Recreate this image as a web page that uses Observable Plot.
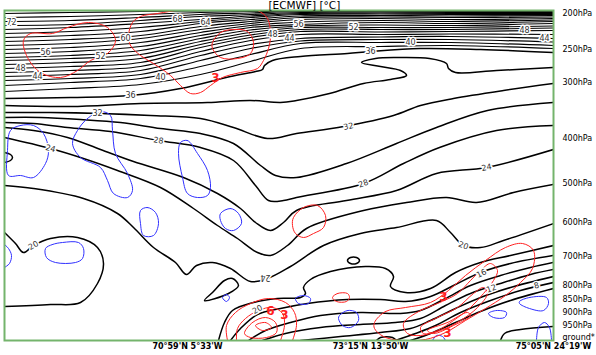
<!DOCTYPE html>
<html><head><meta charset="utf-8">
<script src="https://cdn.jsdelivr.net/npm/d3@7"></script>
<script src="https://cdn.jsdelivr.net/npm/@observablehq/plot@0.6"></script>
<style>body{margin:0;background:#fff} svg{display:block}</style>
</head><body><div id="chart"></div>
<script>
// x = distance along the section (km), y = height (m, standard atmosphere)
const title = "[ECMWF] [°C]";
const sectionTicks = [366, 732, 1098];
const sectionLabels = ["70°59'N 5°33'W", "73°15'N 13°50'W", "75°05'N 24°19'W"];
const pressureHeights = [11800,10504,9316,7300,5680,4276,3052,2008,1504,1036,568,136];
const pressureLabels = ["200hPa","250hPa","300hPa","400hPa","500hPa","600hPa","700hPa","800hPa","850hPa","900hPa","950hPa","ground*"];

// upper dense isotherms: height of each level at these section stations
const bandKm = [0,132,272,392,492,592,752,892,1098];
const bandLevels = [76,74,72,70,68,66,64,62,60,58,56,54,52,50,48,46,44,42,40,38];
const bandHeights = [
 [11800,11836,11872,11890,11908,11908,11908,11908,11908],
 [11656,11692,11764,11836,11872,11890,11890,11890,11890],
 [11512,11548,11656,11764,11818,11872,11872,11872,11872],
 [11368,11404,11548,11692,11764,11836,11854,11836,11836],
 [11224,11296,11440,11584,11710,11800,11818,11800,11800],
 [11080,11152,11296,11512,11656,11764,11782,11764,11764],
 [10936,11008,11152,11440,11584,11710,11728,11710,11728],
 [10792,10864,11008,11332,11512,11656,11674,11656,11674],
 [10648,10720,10900,11224,11440,11584,11620,11584,11620],
 [10504,10576,10756,11116,11368,11494,11548,11512,11566],
 [10360,10432,10612,11008,11296,11404,11476,11440,11512],
 [10216,10288,10468,10900,11206,11350,11386,11368,11440],
 [10108,10180,10324,10792,11116,11296,11296,11296,11350],
 [9964,10036,10180,10684,11026,11224,11224,11224,11278],
 [9820,9892,10036,10576,10936,11152,11134,11152,11188],
 [9676,9748,9892,10432,10828,11044,11044,11062,11044],
 [9532,9604,9748,10288,10684,10900,10954,10972,10900],
 [9388,9460,9604,10108,10540,10810,10864,10864,10774],
 [9208,9316,9460,9892,10324,10720,10756,10756,10648],
 [8992,9100,9244,9604,10072,10540,10612,10648,10540]
];

// other isotherms (open lines)
const isothermLines = [
 [[0,8740],[132,8776],[252,8848],[352,9100],[452,9532],[502,9712],[516,9784],[520,9928],[536,10108],[592,10252],[686,10360],[732,10432],[832,10540],[952,10504],[1098,10396]],
 [[0,8488],[132,8452],[272,8560],[406,8596],[492,8668],[552,8596],[584,8668],[650,8920],[718,9280],[772,9424],[804,9568],[792,9748],[752,9892],[714,10036],[742,10180],[784,10216],[850,10180],[884,10000],[888,9820],[902,9676],[984,9748],[1098,9856]],
 [[0,8236],[92,8236],[192,8200],[292,8128],[392,8020],[458,7696],[526,7300],[584,7480],[678,7732],[778,8128],[832,8488],[898,8740],[998,9028],[1098,9280]],
 [[0,8056],[72,8056],[152,7984],[232,7876],[312,7660],[392,7480],[458,7120],[512,6328],[542,5968],[584,5896],[684,6400],[784,7120],[864,7696],[966,8308],[1098,8596]],
 [[0,7876],[58,7840],[126,7696],[212,7552],[308,7228],[392,6976],[458,6508],[502,5608],[528,5068],[558,5068],[584,5176],[718,5680],[798,6400],[870,6976],[984,7588],[1098,7768]],
 [[0,7696],[58,7588],[126,7336],[192,6904],[258,6472],[358,5896],[426,5320],[472,4780],[502,4276],[532,3988],[558,4276],[584,4708],[684,5068],[784,5428],[864,6040],[964,6256],[1098,6904]],
 [[0,7336],[92,6940],[158,6580],[226,6148],[312,5536],[378,4780],[426,4168],[466,3700],[506,3196],[532,3088],[566,3448],[604,4060],[718,4708],[804,4996],[884,5176],[944,4996],[1018,5356],[1098,5644]],
 [[0,5608],[58,5500],[158,5140],[226,4600],[258,4096],[298,3376],[342,2836],[364,2404],[384,2728],[416,2836],[452,2620],[492,2152],[526,2260],[572,2692],[638,3448],[712,3880],[784,4096],[864,4348],[892,3916],[918,3448],[952,3376],[998,3628],[1098,4240]],
 [[0,3916],[22,3520],[38,3196],[58,3448],[92,3700],[146,3736],[186,3376],[198,2800],[186,2080],[152,1396],[92,1324],[0,1252]],
 [[0,6796],[12,6724],[16,6616],[12,6508],[0,6436]],
 [[428,28],[440,676],[456,1108],[498,1396],[546,1540],[592,1576],[602,1720],[598,1936],[612,2224],[652,2512],[722,2692],[762,2620],[778,2332],[772,1972],[802,1756],[852,1900],[902,2476],[952,2836],[1012,3088],[1098,3448]],
 [[452,28],[472,460],[506,964],[552,1180],[606,1360],[686,1504],[752,1504],[802,1432],[852,1612],[902,2044],[952,2476],[1012,2800],[1098,3088]],
 [[488,28],[522,388],[572,676],[632,928],[712,1036],[792,1000],[832,1108],[882,1540],[932,2008],[992,2368],[1052,2656],[1098,2836]],
 [[516,28],[562,280],[632,496],[712,604],[782,676],[832,820],[882,1288],[932,1720],[992,2080],[1052,2404],[1098,2584]],
 [[592,28],[672,172],[752,316],[812,460],[852,748],[902,1180],[952,1576],[1012,1936],[1098,2332]],
 [[782,28],[822,280],[862,568],[912,1036],[972,1468],[1032,1828],[1098,2116]],
 [[812,28],[852,280],[902,676],[952,1072],[1012,1468],[1098,1900]],
 [[992,28],[1000,280],[1032,424],[1098,532]],
 [[744,28],[752,136],[776,136],[784,28]]
];
const isothermLoops = [
 [[400,1468],[416,1756],[440,2188],[456,2260],[468,2008],[448,1720]],
 [[686,2908],[692,3016],[704,3016],[710,2908],[704,2800],[692,2800]]
];

// red contours
const redLoops = [
 [[38,10828],[52,11080],[96,11080],[126,11296],[168,11476],[206,11296],[222,10828],[206,10360],[172,10108],[146,9748],[112,9496],[72,9676],[46,10216]],
 [[272,10288],[252,10648],[248,11008],[256,11476],[272,11692],[306,11800],[358,11944],[412,11980],[472,11980],[506,11908],[526,11620],[532,11008],[528,10540],[518,10108],[506,9820],[472,9676],[436,9496],[412,9208],[392,8956],[372,8920],[352,9208],[332,9568],[298,10000]],
 [[416,10756],[432,11116],[458,11224],[486,11152],[498,10756],[492,10360],[466,10180],[432,10216],[416,10540]],
 [[578,4456],[598,4816],[626,4888],[642,4528],[638,4096],[618,3880],[598,3736],[582,3880],[576,4168]],
 [[656,1576],[666,1720],[686,1720],[690,1576],[684,1432],[664,1432]],
 [[480,280],[496,676],[522,856],[542,676],[544,316],[524,136],[492,136]],
 [[502,568],[522,676],[534,496],[516,388]],
 [[740,676],[762,1072],[802,1216],[852,1396],[888,1828],[922,2368],[962,2908],[1002,3376],[1036,3520],[1058,3268],[1056,2620],[1032,2116],[1002,1648],[962,1180],[922,748],[882,316],[842,64],[792,28],[758,172],[740,460]],
 [[798,640],[832,1108],[866,1360],[906,1720],[932,2188],[952,2548],[972,2800],[986,2548],[978,2188],[958,1720],[932,1216],[898,748],[866,388],[832,208],[806,280]],
 [[832,496],[866,856],[906,1216],[938,1720],[958,1936],[966,1720],[946,1216],[912,748],[872,388],[838,280]],
 [[846,388],[886,676],[926,1036],[932,928],[898,568],[858,280]]
];
const redLines = [
 [[446,28],[444,568],[462,1036],[492,1360],[528,1540],[562,1396],[580,1036],[584,568],[576,28]],
 [[464,28],[466,460],[482,820],[508,1108],[536,1216],[556,1000],[560,568],[552,28]]
];

// blue contours
const blueLoops = [
 [[12,7588],[32,7768],[58,7768],[78,7480],[88,6868],[82,6400],[58,5896],[32,5968],[8,5968],[6,6868]],
 [[146,7588],[166,8020],[192,8272],[212,8128],[216,7588],[222,6760],[246,6040],[256,5428],[246,5176],[218,5320],[206,5788],[192,6256],[152,6616],[136,7120]],
 [[352,7156],[366,7228],[386,6760],[406,6148],[412,5536],[406,5248],[386,5176],[366,5320],[356,5896],[348,6760]],
 [[272,4708],[286,4816],[302,4636],[308,4240],[298,3808],[278,3808],[272,4240]],
 [[432,4600],[452,4780],[468,4600],[474,4240],[458,3988],[442,4060],[432,4348]],
 [[82,3340],[96,3484],[116,3556],[148,3556],[158,3340],[156,2980],[142,2836],[102,2836],[84,3016]],
 [[436,1576],[444,1684],[450,1576],[444,1432]],
 [[582,1540],[598,1648],[612,1540],[608,1360],[588,1360]],
 [[670,928],[686,1108],[704,1036],[708,748],[692,496],[676,568],[668,820]],
 [[968,1000],[984,1108],[1004,1036],[1000,856],[978,856]],
 [[1030,1432],[1050,1576],[1084,1576],[1088,1360],[1078,1108],[1050,1180],[1030,1360]]
];
const blueLines = [
 [[0,3484],[8,3340],[14,3088],[10,2800],[0,2656]],
 [[1064,28],[1068,496],[1080,676],[1090,496],[1094,28]],
 [[856,28],[864,208],[876,172],[882,28]]
];

// contour labels
const isothermLabels = [
 [14,11476,"72"],[82,10396,"56"],[192,10252,"52"],[242,10900,"60"],[32,9820,"48"],[66,9532,"44"],
 [252,8848,"36"],[312,9496,"40"],[346,11584,"68"],[402,11476,"64"],[536,11044,"48"],[588,11404,"56"],
 [698,11296,"52"],[570,10900,"44"],[812,10756,"40"],[732,10432,"36"],[1040,11188,"48"],[1080,10900,"44"],
 [186,8200,"32"],[688,7732,"32"],[308,7228,"28"],[718,5680,"28"],[92,6940,"24"],[964,6256,"24"],
 [58,3448,"20"],[522,2296,"24"],[918,3448,"20"],[954,2440,"16"],[974,1900,"12"],[1064,2008,"8"],[506,1144,"20"]
];
const isothermLabelAngles = [0,0,0,0,0,0,0,0,0,0,0,0,0,0,0,0,0,0,0,-12,10,-20,15,-10,-30,180,20,-25,-20,-15,-30];
const redLabels = [[422,9460,"3"],[532,1072,"6"],[560,928,"3"],[878,1576,"3"],[886,280,"3"]];

function toRows(list, prefix) {
  const out = [];
  list.forEach((pts, i) => pts.forEach(([x, y]) => out.push({id: prefix + i, x, y})));
  return out;
}
const bandRows = toRows(bandLevels.map((lev, i) => bandKm.map((k, j) => [k, bandHeights[i][j]])), "b");
const lineOpts = {x: "x", y: "y", z: "id", clip: true};

const chart = Plot.plot({
  width: 596, height: 355,
  marginLeft: 4, marginRight: 43, marginTop: 10, marginBottom: 15,
  x: {domain: [0, 1098], axis: null},
  y: {domain: [28, 11908], axis: null},
  style: {fontFamily: "DejaVu Sans", background: "white", overflow: "visible"},
  marks: [
    Plot.line(bandRows, {...lineOpts, stroke: "#000", strokeWidth: 1.2, curve: "catmull-rom"}),
    Plot.line(toRows(isothermLines, "i"), {...lineOpts, stroke: "#000", strokeWidth: 1.5, curve: "catmull-rom"}),
    Plot.line(toRows(isothermLoops, "l"), {...lineOpts, stroke: "#000", strokeWidth: 1.5, curve: "catmull-rom-closed"}),
    Plot.line(toRows(blueLoops, "u"), {...lineOpts, stroke: "#3030ff", strokeWidth: 1, curve: "catmull-rom-closed"}),
    Plot.line(toRows(blueLines, "v"), {...lineOpts, stroke: "#3030ff", strokeWidth: 1, curve: "catmull-rom"}),
    Plot.line(toRows(redLoops, "r"), {...lineOpts, stroke: "#ff2020", strokeWidth: 1, curve: "catmull-rom-closed"}),
    Plot.line(toRows(redLines, "s"), {...lineOpts, stroke: "#ff2020", strokeWidth: 1, curve: "catmull-rom"}),
    Plot.text(isothermLabels, {x: d => d[0], y: d => d[1], text: d => d[2], rotate: (d, i) => isothermLabelAngles[i],
      fontSize: 8, fill: "#333", stroke: "white", strokeWidth: 3, paintOrder: "stroke", clip: true}),
    Plot.text(redLabels, {x: d => d[0], y: d => d[1], text: d => d[2], fontSize: 12, fontWeight: "bold",
      fill: "#ff2020", clip: true}),
    Plot.frame({stroke: "#74b46c", strokeWidth: 2}),
    Plot.text(sectionTicks, {x: d => d, text: (d, i) => sectionLabels[i], frameAnchor: "bottom", lineAnchor: "top",
      dy: 3, fontSize: 8, fontWeight: "bold", fill: "#000"}),
    Plot.text(pressureHeights, {y: d => d, text: (d, i) => pressureLabels[i], frameAnchor: "right",
      textAnchor: "start", dx: 9, fontSize: 8, fill: "#000"}),
    Plot.text([title], {text: d => d, frameAnchor: "top-left", dx: 264, dy: -1.5, lineAnchor: "bottom",
      textAnchor: "start", fontSize: 10.5, fill: "#000"})
  ]
});
document.getElementById("chart").appendChild(chart);
</script>
</body></html>
